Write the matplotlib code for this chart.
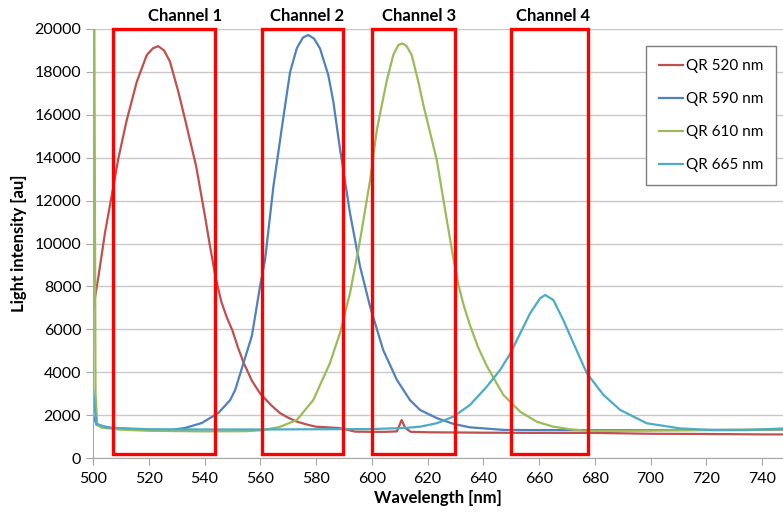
import numpy as np
import matplotlib
matplotlib.use('Agg')
from matplotlib import pyplot as plt
from matplotlib.patches import Rectangle

plt.rcParams['font.family'] = ['Lato', 'DejaVu Sans']

# QR 520 nm
wl_520 = [500, 502, 504.3, 507.3, 509, 512, 515.7, 519.3, 521.5, 523.4, 525.5, 527.6, 530.6, 533, 535, 537,
          540, 542, 544, 546, 548, 550, 552, 554, 557, 560, 564, 567, 570, 573, 577, 580, 585, 588, 591,
          594, 600, 605, 609, 610.7, 612, 614, 620, 640, 660, 680, 700, 720, 740, 748]
int_520 = [6900, 8500, 10500, 12650, 13900, 15700, 17540, 18790, 19100, 19200, 19000, 18480, 17080, 15800, 14700, 13600,
           11400, 9850, 8400, 7300, 6550, 5950, 5150, 4450, 3600, 3000, 2450, 2100, 1880, 1700, 1550, 1460, 1420, 1400, 1320,
           1230, 1220, 1220, 1240, 1770, 1400, 1220, 1200, 1180, 1170, 1170, 1130, 1120, 1100, 1100]

# QR 590 nm
wl_590 = [500, 501.3, 506.7, 515, 521, 528, 533, 539, 545, 549.2, 551, 555.1, 557, 559.9, 561.7, 564.7,
          568.3, 570.7, 573.1, 575.3, 577.2, 579.3, 581.4, 584.4, 586.2, 588.6, 592.2, 595.8, 599.4, 604.1,
          609, 613.7, 617.3, 623.3, 629.3, 635.2, 647.2, 660, 680, 700, 720, 748]
int_590 = [2000, 1540, 1400, 1330, 1300, 1310, 1400, 1630, 2100, 2700, 3170, 4900, 5700, 7990, 9230, 12650,
           15900, 18000, 19100, 19600, 19720, 19550, 19100, 17850, 16620, 14400, 11400, 8920, 7050, 5030,
           3640, 2700, 2240, 1860, 1590, 1430, 1310, 1300, 1300, 1300, 1310, 1320]

# QR 610 nm
wl_610 = [500, 500.5, 500.9, 501.5, 503, 510, 520, 540, 555, 561, 567, 573.1, 579, 585, 588.6, 592.2,
          595.8, 599.4, 601.8, 603.6, 605.3, 607.7, 609.5, 611, 612.5, 614.3, 616.7, 618.5, 623.3, 626.9,
          629, 631.1, 633, 635.2, 638, 641.2, 647.2, 653.2, 659.2, 665.1, 671.1, 677, 690, 720, 748]
int_610 = [26000, 20000, 3000, 1550, 1420, 1320, 1270, 1240, 1250, 1300, 1450, 1770, 2700, 4430, 5830, 7690,
           10160, 12960, 15290, 16460, 17540, 18790, 19250, 19330, 19200, 18790, 17540, 16460, 13900, 11100,
           9500, 8060, 7100, 6200, 5200, 4300, 2940, 2160, 1690, 1460, 1340, 1270, 1270, 1300, 1330]

# QR 665 nm
wl_665 = [500, 501.2, 505, 520, 540, 560, 580, 600, 612, 617.3, 623.3, 629.3, 635.2, 641.2, 646, 649.6,
          653.2, 656.8, 660.4, 662.2, 665.1, 668.7, 672.3, 677.1, 683.1, 689.1, 698.6, 710.6, 722.5, 734.5, 748]
int_665 = [3200, 1600, 1420, 1340, 1330, 1330, 1340, 1350, 1400, 1460, 1620, 1930, 2470, 3320, 4100, 4850,
           5800, 6750, 7450, 7600, 7370, 6430, 5360, 3960, 2940, 2240, 1620, 1380, 1300, 1300, 1380]

series_labels = ['QR 520 nm', 'QR 590 nm', 'QR 610 nm', 'QR 665 nm']
series_colors = ['#C0504D', '#4F81BD', '#9BBB59', '#4BACC6']

# channel windows [nm]
channel_names = ['Channel 1', 'Channel 2', 'Channel 3', 'Channel 4']
channel_lo = [507.2, 560.6, 600.0, 649.8]
channel_hi = [543.7, 589.6, 630.0, 677.4]
channel_text_x = [533, 576.8, 617, 665]

fig = plt.figure(figsize=(7.83, 5.12), dpi=100)
ax = fig.add_axes([93/783, 54/512, 690/783, 429/512])

for wl, val, lab, col in zip([wl_520, wl_590, wl_610, wl_665],
                             [int_520, int_590, int_610, int_665],
                             series_labels, series_colors):
    ax.plot(wl, val, color=col, lw=1.6, label=lab)

ax.set_xlim(500, 747.5)
ax.set_ylim(0, 20000)
ax.set_xticks(np.arange(500, 741, 20))
ax.set_yticks(np.arange(0, 20001, 2000))
ax.yaxis.grid(True, color='#C8C8C8', lw=1)
ax.set_axisbelow(True)
for s in ['top', 'right']:
    ax.spines[s].set_visible(False)
for s in ['left', 'bottom']:
    ax.spines[s].set_color('#A6A6A6')
ax.tick_params(axis='both', colors='#A6A6A6', labelcolor='black', labelsize=11.5, length=5, direction='out')
ax.tick_params(axis='x', pad=5)
ax.set_xlabel('Wavelength [nm]', fontsize=12, fontweight='bold', labelpad=3)
ax.set_ylabel('Light intensity [au]', fontsize=12, fontweight='bold', labelpad=5)

for lo, hi, name, tx in zip(channel_lo, channel_hi, channel_names, channel_text_x):
    ax.add_patch(Rectangle((lo, 180), hi - lo, 20000 - 180, fill=False, edgecolor='#FF0000',
                           lw=2.4, clip_on=False, zorder=5))
    ax.text(tx, 20620, name, ha='center', va='center', fontsize=12, fontweight='bold')

leg = ax.legend(loc='upper right', bbox_to_anchor=(776/783, 1 - 46/512), bbox_transform=fig.transFigure,
                borderaxespad=0, fontsize=11, handlelength=1.6, handletextpad=0.15,
                labelspacing=1.25, borderpad=0.85, fancybox=False, framealpha=1)
leg.get_frame().set_edgecolor('#7F7F7F')
leg.get_frame().set_linewidth(1)

fig.savefig('out.png', dpi=100)
